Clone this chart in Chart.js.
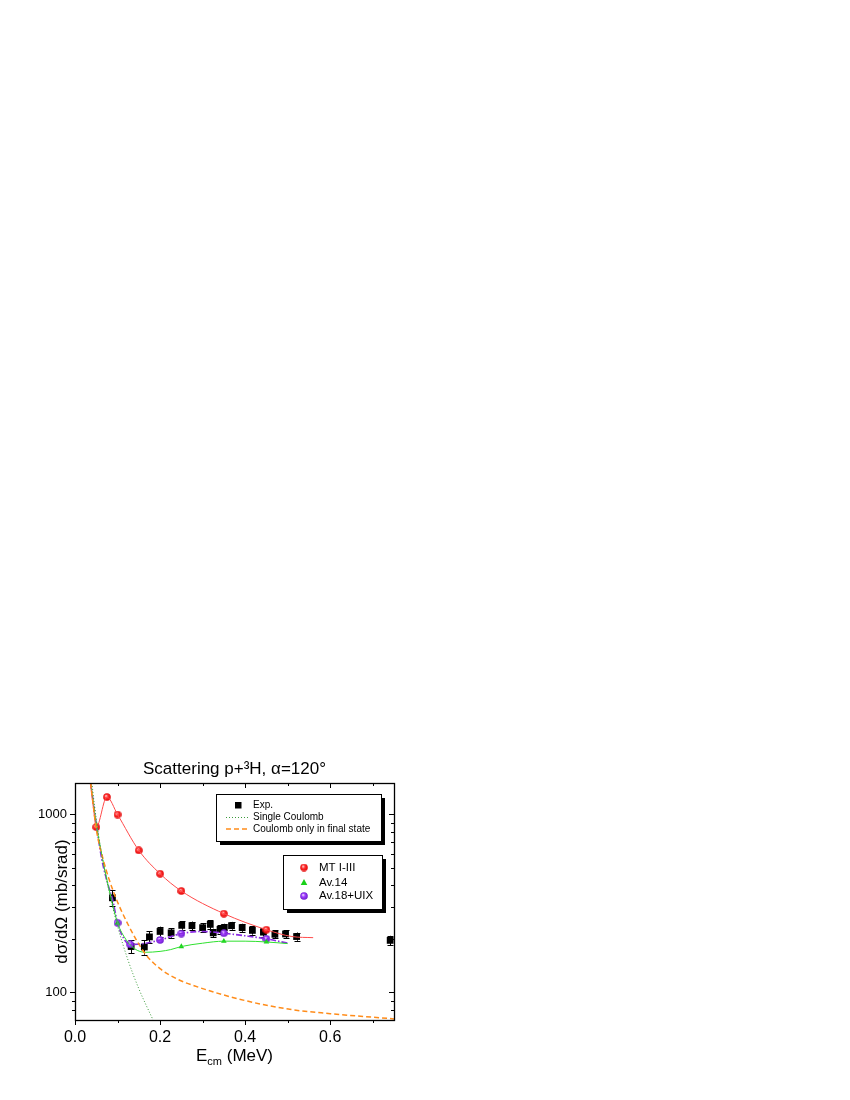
<!DOCTYPE html>
<html>
<head>
<meta charset="utf-8">
<script src="https://cdn.jsdelivr.net/npm/chart.js@4.4.0/dist/chart.umd.min.js"></script>
<style>
  html, body { margin: 0; padding: 0; background: #fff; }
  #wrap { width: 850px; height: 1100px; }
</style>
</head>
<body>
<div id="wrap"><canvas id="chart" width="850" height="1100"></canvas></div>
<script>
// --- Data ---
// Experiment (squares with error bars)
const expX = [0.088, 0.132, 0.163, 0.175, 0.2, 0.226, 0.251, 0.275, 0.3, 0.318, 0.325,
              0.341, 0.351, 0.368, 0.393, 0.417, 0.443, 0.47, 0.495, 0.521, 0.741];
const expY = [340, 181, 180, 205, 220, 216, 238, 237, 231, 241, 216,
              226, 231, 237, 231, 223, 218, 212, 213, 206, 196];
const expErr = [34, 15, 17, 15, 14, 13, 13, 13, 13, 14, 12,
                12, 12, 12, 12, 12, 12, 11, 11, 11, 12];

// MT I-III
const mtX = [0.05, 0.075, 0.1, 0.15, 0.2, 0.25, 0.35, 0.45];
const mtY = [848, 1251, 998, 628, 464, 371, 277, 225];
const mtLineX = [0.036, 0.043, 0.05, 0.075, 0.1, 0.15, 0.2, 0.25, 0.35, 0.45, 0.51, 0.56];
const mtLineY = [1490, 1100, 848, 1251, 998, 628, 464, 371, 277, 225, 206, 203];

// Av.14
const av14X = [0.1, 0.25, 0.35, 0.45];
const av14Y = [246, 181, 194, 192];
const av14LineX = [0.037, 0.05, 0.065, 0.08, 0.1, 0.12, 0.14, 0.165, 0.2, 0.225, 0.25, 0.3, 0.35, 0.4, 0.45, 0.5];
const av14LineY = [1500, 880, 560, 380, 246, 198, 176, 168, 170, 174, 181, 189, 194, 194, 192, 188];

// Av.18+UIX
const av18X = [0.1, 0.13, 0.2, 0.25, 0.35, 0.45];
const av18Y = [246, 186, 197, 214, 215, 200];
const av18LineX = [0.037, 0.05, 0.063, 0.078, 0.088, 0.1, 0.115, 0.13, 0.16, 0.2, 0.25, 0.3, 0.35, 0.4, 0.45, 0.5];
const av18LineY = [1500, 880, 560, 400, 335, 246, 200, 186, 188, 197, 214, 220, 215, 208, 200, 189];

// Single Coulomb
const coulX = [0.036, 0.045, 0.055, 0.065, 0.08, 0.1, 0.125, 0.15, 0.18, 0.19];
const coulY = [1820, 1165, 780, 560, 370, 236, 151, 105, 73, 65];

// Coulomb only in final state
const finX = [0.037, 0.05, 0.067, 0.09, 0.125, 0.165, 0.2, 0.24, 0.28, 0.4, 0.51, 0.6, 0.75];
const finY = [1500, 830, 550, 370, 240, 165, 136, 119, 109, 90, 80, 76, 71];

const xTicks = [0, 0.1, 0.2, 0.3, 0.4, 0.5, 0.6, 0.7];
const yTicks = [80, 90, 100, 200, 300, 400, 500, 600, 700, 800, 900, 1000];
const yLabelled = [100, 1000];

const FONT = "Arial, 'Liberation Sans', sans-serif";

function pts(xs, ys) {
    return xs.map((x, i) => ({ x: x, y: ys[i] }));
}

// shaded ball marker, like the origin "sphere" symbol
function sphere(light, mid, dark, d) {
    const c = document.createElement("canvas");
    c.width = d;
    c.height = d;
    const g = c.getContext("2d");
    const r = d / 2;
    const grad = g.createRadialGradient(r * 0.75, r * 0.7, 0.2, r, r, r);
    grad.addColorStop(0, light);
    grad.addColorStop(0.4, mid);
    grad.addColorStop(1, dark);
    g.fillStyle = grad;
    g.beginPath();
    g.arc(r, r, r - 0.2, 0, Math.PI * 2);
    g.fill();
    return c;
}

const redBall = sphere("#ffe0e0", "#ff3030", "#e00000", 8);
const purpleBall = sphere("#f0dcff", "#a040ff", "#6a18c8", 8);

const RED = "#ff4a4a";
const GREEN = "#2ee02e";
const PURPLE = "#8a2be2";
const DOTGREEN = "#3a9a3a";
const ORANGE = "#ff8c1a";

const EXP_INDEX = 8;

function lineSet(xs, ys, color, width, dash) {
    return {
        data: pts(xs, ys),
        showLine: true,
        borderColor: color,
        borderWidth: width,
        borderDash: dash,
        pointRadius: 0,
        tension: 0.4,
        cubicInterpolationMode: "monotone",
        fill: false,
    };
}

const datasets = [
    lineSet(coulX, coulY, DOTGREEN, 1, [1, 2]),
    lineSet(finX, finY, ORANGE, 1.5, [5, 3]),
    lineSet(mtLineX, mtLineY, RED, 1, []),
    lineSet(av14LineX, av14LineY, GREEN, 1, []),
    lineSet(av18LineX, av18LineY, PURPLE, 1.6, [6, 2, 1.5, 2]),
    {
        data: pts(av14X, av14Y),
        showLine: false,
        pointStyle: "triangle",
        pointRadius: 3.2,
        backgroundColor: "#18d018",
        borderColor: "#18d018",
        borderWidth: 0,
    },
    {
        data: pts(av18X, av18Y),
        showLine: false,
        pointStyle: purpleBall,
        pointRadius: 4,
    },
    {
        data: pts(mtX, mtY),
        showLine: false,
        pointStyle: redBall,
        pointRadius: 4,
    },
    {
        data: pts(expX, expY),
        showLine: false,
        pointStyle: "rect",
        pointRadius: 4.8,
        backgroundColor: "#000",
        borderColor: "#000",
        borderWidth: 0,
    },
];

// --- error bars, axes frame, ticks, texts and legends ---
function drawErrorBars(chart) {
    const ctx = chart.ctx;
    const xs = chart.scales.x;
    const ys = chart.scales.y;
    ctx.save();
    ctx.strokeStyle = "#000";
    ctx.lineWidth = 1;
    expX.forEach((x, i) => {
        const px = Math.round(xs.getPixelForValue(x)) + 0.5;
        const top = ys.getPixelForValue(expY[i] + expErr[i]);
        const bot = ys.getPixelForValue(expY[i] - expErr[i]);
        ctx.beginPath();
        ctx.moveTo(px, top);
        ctx.lineTo(px, bot);
        ctx.moveTo(px - 3, Math.round(top) + 0.5);
        ctx.lineTo(px + 3, Math.round(top) + 0.5);
        ctx.moveTo(px - 3, Math.round(bot) + 0.5);
        ctx.lineTo(px + 3, Math.round(bot) + 0.5);
        ctx.stroke();
    });
    ctx.restore();
}

function drawFrame(chart) {
    const ctx = chart.ctx;
    const { left, right, top, bottom } = chart.chartArea;
    const xs = chart.scales.x;
    const ys = chart.scales.y;
    ctx.save();
    ctx.strokeStyle = "#000";
    ctx.lineWidth = 1.3;
    ctx.strokeRect(Math.round(left) + 0.5, Math.round(top) + 0.5,
                   Math.round(right - left), Math.round(bottom - top));
    ctx.lineWidth = 1;
    ctx.beginPath();
    xTicks.forEach((v) => {
        const px = Math.round(xs.getPixelForValue(v)) + 0.5;
        const major = Math.abs(v / 0.2 - Math.round(v / 0.2)) < 1e-6;
        const len = major ? 5 : 3;
        ctx.moveTo(px, bottom);
        ctx.lineTo(px, bottom + len);
        ctx.moveTo(px, top);
        ctx.lineTo(px, top + len);
    });
    yTicks.forEach((v) => {
        const py = Math.round(ys.getPixelForValue(v)) + 0.5;
        const len = yLabelled.includes(v) ? 5 : 3;
        ctx.moveTo(left, py);
        ctx.lineTo(left - len, py);
        ctx.moveTo(right, py);
        ctx.lineTo(right - len, py);
    });
    ctx.stroke();

    // title
    const cx = (left + right) / 2;
    ctx.fillStyle = "#000";
    ctx.textAlign = "center";
    ctx.textBaseline = "alphabetic";
    ctx.font = "17px " + FONT;
    ctx.fillText("Scattering p+\u00B3H, \u03B1=120\u00B0", cx, top - 9);

    // x axis title with subscript
    const main = "E";
    const sub = "cm";
    const rest = " (MeV)";
    ctx.font = "17px " + FONT;
    const wMain = ctx.measureText(main).width;
    const wRest = ctx.measureText(rest).width;
    ctx.font = "11px " + FONT;
    const wSub = ctx.measureText(sub).width;
    let x0 = cx - (wMain + wSub + wRest) / 2;
    const base = bottom + 41;
    ctx.textAlign = "left";
    ctx.font = "17px " + FONT;
    ctx.fillText(main, x0, base);
    ctx.font = "11px " + FONT;
    ctx.fillText(sub, x0 + wMain, base + 4);
    ctx.font = "17px " + FONT;
    ctx.fillText(rest, x0 + wMain + wSub, base);

    // y axis title
    ctx.save();
    ctx.translate(left - 8, (top + bottom) / 2);
    ctx.rotate(-Math.PI / 2);
    ctx.textAlign = "center";
    ctx.font = "17px " + FONT;
    ctx.fillText("d\u03C3/d\u03A9 (mb/srad)", 0, 0);
    ctx.restore();

    drawLegends(chart);
    ctx.restore();
}

function legendBox(ctx, x, y, w, h) {
    ctx.fillStyle = "#000";
    ctx.fillRect(x + 4, y + 4, w, h);
    ctx.fillStyle = "#fff";
    ctx.fillRect(x, y, w, h);
    ctx.strokeStyle = "#000";
    ctx.lineWidth = 1;
    ctx.strokeRect(x + 0.5, y + 0.5, w, h);
}

function drawLegends(chart) {
    const ctx = chart.ctx;
    const { left, top } = chart.chartArea;
    // first box: exp + coulomb curves
    const b1x = left + 141;
    const b1y = top + 11;
    legendBox(ctx, b1x, b1y, 165, 47);
    ctx.textAlign = "left";
    ctx.textBaseline = "middle";
    ctx.font = "10px " + FONT;
    const mx = b1x + 22;
    const tx = b1x + 37;
    ctx.fillStyle = "#000";
    ctx.fillRect(mx - 3, b1y + 11 - 3, 6.5, 6.5);
    ctx.fillText("Exp.", tx, b1y + 11.5);
    ctx.lineWidth = 1;
    ctx.strokeStyle = DOTGREEN;
    ctx.setLineDash([1, 2]);
    ctx.beginPath();
    ctx.moveTo(b1x + 10, b1y + 23.5);
    ctx.lineTo(b1x + 34, b1y + 23.5);
    ctx.stroke();
    ctx.fillText("Single Coulomb", tx, b1y + 23.5);
    ctx.strokeStyle = ORANGE;
    ctx.lineWidth = 1.5;
    ctx.setLineDash([5, 3]);
    ctx.beginPath();
    ctx.moveTo(b1x + 10, b1y + 35);
    ctx.lineTo(b1x + 34, b1y + 35);
    ctx.stroke();
    ctx.setLineDash([]);
    ctx.fillText("Coulomb only in final state", tx, b1y + 35);

    // second box: calculations
    const b2x = left + 208;
    const b2y = top + 72;
    legendBox(ctx, b2x, b2y, 99, 54);
    ctx.font = "11.5px " + FONT;
    ctx.fillStyle = "#000";
    const m2 = b2x + 21;
    const t2 = b2x + 36;
    ctx.drawImage(redBall, m2 - 4, b2y + 12.5 - 4, 8, 8);
    ctx.fillText("MT I-III", t2, b2y + 12.5);
    ctx.fillStyle = "#18d018";
    ctx.beginPath();
    ctx.moveTo(m2, b2y + 24);
    ctx.lineTo(m2 + 3.3, b2y + 30);
    ctx.lineTo(m2 - 3.3, b2y + 30);
    ctx.closePath();
    ctx.fill();
    ctx.fillStyle = "#000";
    ctx.fillText("Av.14", t2, b2y + 27.5);
    ctx.drawImage(purpleBall, m2 - 4, b2y + 41 - 4, 8, 8);
    ctx.fillText("Av.18+UIX", t2, b2y + 41);
}

const framePlugin = {
    id: "frame",
    beforeDatasetDraw(chart, args) {
        if (args.index === EXP_INDEX) drawErrorBars(chart);
    },
    afterDraw(chart) {
        drawFrame(chart);
    },
};

const ctx = document.getElementById("chart").getContext("2d");
new Chart(ctx, {
    type: "scatter",
    data: { datasets: datasets },
    plugins: [framePlugin],
    options: {
        responsive: false,
        animation: false,
        layout: { padding: { top: 783, right: 456, left: 0, bottom: 0 } },
        plugins: {
            legend: { display: false },
            tooltip: { enabled: false },
            title: { display: false },
        },
        scales: {
            x: {
                type: "linear",
                min: 0,
                max: 0.75,
                grid: { display: false, drawTicks: false },
                border: { display: false },
                afterBuildTicks: (scale) => {
                    scale.ticks = xTicks.map((v) => ({ value: v }));
                },
                afterFit: (scale) => {
                    scale.height = 80;
                },
                ticks: {
                    autoSkip: false,
                    maxRotation: 0,
                    padding: 8,
                    color: "#000",
                    font: { size: 16, family: FONT },
                    callback: (v) => {
                        const major = Math.abs(v / 0.2 - Math.round(v / 0.2)) < 1e-6;
                        return major ? v.toFixed(1) : "";
                    },
                },
            },
            y: {
                type: "logarithmic",
                min: 70,
                max: 1500,
                grid: { display: false, drawTicks: false },
                border: { display: false },
                afterBuildTicks: (scale) => {
                    scale.ticks = yTicks.map((v) => ({ value: v }));
                },
                afterFit: (scale) => {
                    scale.width = 75;
                },
                ticks: {
                    autoSkip: false,
                    padding: 8,
                    color: "#000",
                    font: { size: 13, family: FONT },
                    callback: (v) => (yLabelled.includes(v) ? String(v) : ""),
                },
            },
        },
    },
});
</script>
</body>
</html>
